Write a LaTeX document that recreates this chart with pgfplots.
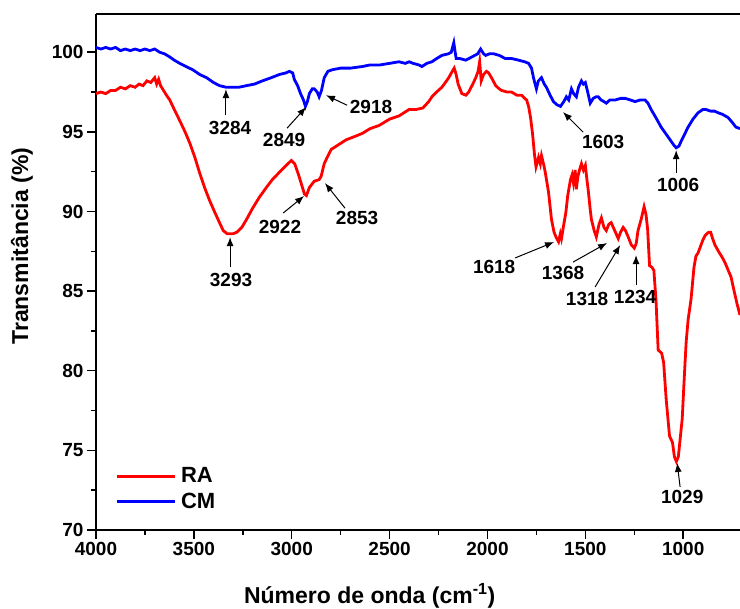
\documentclass[border=0pt]{standalone}
\usepackage{fontspec}
\setmainfont{Liberation Sans}
\usepackage{pgfplots}
\pgfplotsset{compat=1.18}
\usetikzlibrary{arrows.meta}

\begin{document}
\begin{tikzpicture}
\path[use as bounding box] (-96pt,-79pt) rectangle (644pt,530pt);
\begin{axis}[
    scale only axis,
    width=644pt, height=516pt,
    x dir=reverse,
    xmin=710, xmax=4000,
    ymin=70, ymax=102.4,
    xtick={1000,1500,2000,2500,3000,3500,4000},
    ytick={70,75,80,85,90,95,100},
    minor x tick num=1,
    minor y tick num=1,
    axis lines=left,
    axis line style={-, line width=1.5pt},
    tick align=outside,
    major tick length=9pt,
    minor tick length=5pt,
    every tick/.style={line width=1.5pt, black},
    clip=false,
    /pgf/number format/assume math mode=true,
    /pgf/number format/1000 sep={},
    tick label style={font=\fontsize{19}{20}\selectfont\bfseries},
    xlabel={Número de onda (cm\textsuperscript{-1})},
    ylabel={Transmitância (\%)},
    xlabel style={font=\fontsize{23}{26}\selectfont\bfseries, at={(axis description cs:0.425,-0.128)}, anchor=center},
    ylabel style={font=\fontsize{23}{26}\selectfont\bfseries, at={(axis description cs:-0.115,0.55)}, anchor=center},
    legend style={draw=none, fill=none, at={(axis description cs:0.025,0.03)}, anchor=south west,
        font=\fontsize{22}{24}\selectfont\bfseries, row sep=5pt,
        nodes={inner xsep=5pt}},
    legend cell align=left,
    legend image code/.code={\draw[#1] (0pt,0pt) -- (58pt,0pt);},
]
\addplot[red, line width=2.8pt] coordinates {
(4000,97.4) (3975,97.5) (3950,97.4) (3925,97.6) (3900,97.6) (3875,97.8) (3850,97.7)
(3825,97.9) (3800,97.8) (3780,98.0) (3760,97.9) (3740,98.2) (3720,98.1) (3700,98.4)
(3690,98.0) (3680,98.3) (3670,97.9) (3655,97.6) (3640,97.3) (3623,97.0) (3600,96.4)
(3572,95.7) (3545,95.0) (3521,94.3) (3495,93.4) (3470,92.4) (3445,91.5) (3420,90.7)
(3395,90.0) (3369,89.3) (3350,88.8) (3330,88.6) (3300,88.6) (3280,88.7) (3255,89.0)
(3231,89.5) (3200,90.2) (3165,90.9) (3130,91.5) (3099,92.0) (3060,92.5) (3028,92.9)
(3002,93.2) (2985,93.0) (2965,92.3) (2950,91.7) (2935,91.1) (2925,91.0) (2910,91.5)
(2885,91.9) (2860,92.0) (2850,92.2) (2834,93.0) (2815,93.5) (2798,93.9) (2760,94.2)
(2722,94.5) (2680,94.7) (2640,94.9) (2600,95.2) (2554,95.4) (2500,95.8) (2452,96.0)
(2401,96.4) (2366,96.4) (2330,96.5) (2315,96.7) (2300,96.9) (2284,97.2) (2260,97.5)
(2233,97.8) (2215,98.1) (2198,98.4) (2180,98.8) (2170,99.0) (2160,98.6) (2150,98.0)
(2131,97.4) (2110,97.3) (2096,97.5) (2075,98.0) (2060,98.4) (2048,98.8) (2040,99.4)
(2032,98.2) (2020,98.6) (2005,98.8) (1994,98.7) (1975,98.3) (1958,97.9) (1940,97.7)
(1928,97.6) (1900,97.5) (1877,97.5) (1850,97.3) (1826,97.3) (1810,97.1) (1800,97.0)
(1790,96.6) (1780,95.9) (1770,94.9) (1760,93.6) (1752,92.8) (1745,93.1) (1739,93.4)
(1730,93.0) (1724,93.5) (1712,92.9) (1704,92.4) (1688,91.2) (1673,89.5) (1660,88.7)
(1650,88.4) (1637,88.1) (1628,88.6) (1622,88.3) (1610,89.2) (1600,89.9) (1590,91.0)
(1576,92.0) (1568,92.3) (1561,91.8) (1552,92.6) (1546,91.4) (1538,92.2) (1530,92.6)
(1520,93.0) (1510,92.6) (1500,92.9) (1492,92.0) (1485,91.3) (1475,90.1) (1469,89.5)
(1455,88.8) (1444,88.4) (1430,89.2) (1418,89.6) (1405,89.0) (1393,88.8) (1380,89.2)
(1368,89.3) (1350,88.8) (1332,88.3) (1320,88.7) (1307,89.0) (1295,88.8) (1281,88.4)
(1265,87.9) (1250,87.7) (1240,88.0) (1231,88.8) (1215,89.5) (1200,90.3) (1190,89.8)
(1182,88.9) (1172,86.6) (1160,86.5) (1150,86.3) (1139,84.4) (1128,81.3) (1110,81.1)
(1100,80.5) (1087,78.2) (1070,75.9) (1055,75.5) (1045,74.6) (1035,74.3) (1025,74.6)
(1015,75.8) (1005,77.0) (995,79.5) (985,81.8) (975,83.2) (960,84.5) (945,86.5)
(935,87.2) (924,87.4) (912,87.8) (900,88.2) (888,88.5) (870,88.7) (860,88.7)
(850,88.3) (838,87.9) (820,87.5) (800,87.1) (787,86.8) (770,86.3) (756,85.9)
(740,85.0) (725,84.2) (710,83.5)
};
\addlegendentry{RA}
\addplot[blue, line width=2.8pt] coordinates {
(4000,100.3) (3975,100.2) (3950,100.3) (3925,100.2) (3900,100.3) (3875,100.1) (3850,100.2)
(3825,100.1) (3800,100.2) (3775,100.1) (3750,100.2) (3725,100.1) (3700,100.2) (3675,100.0)
(3650,99.9) (3623,99.7) (3600,99.5) (3572,99.3) (3540,99.1) (3506,98.9) (3470,98.6)
(3435,98.4) (3400,98.1) (3369,97.9) (3335,97.8) (3302,97.8) (3270,97.8) (3231,97.9)
(3190,98.0) (3150,98.2) (3105,98.4) (3063,98.6) (3030,98.7) (3012,98.8) (2995,98.7)
(2987,98.3) (2970,97.9) (2955,97.4) (2940,97.0) (2930,96.6) (2920,96.9) (2910,97.4)
(2895,97.7) (2885,97.7) (2870,97.5) (2860,97.2) (2848,97.6) (2834,98.4) (2815,98.8)
(2793,98.9) (2750,99.0) (2700,99.0) (2640,99.1) (2600,99.2) (2550,99.2) (2500,99.3)
(2452,99.4) (2420,99.3) (2400,99.4) (2380,99.3) (2350,99.2) (2335,99.1) (2310,99.3)
(2284,99.4) (2260,99.6) (2233,99.8) (2200,99.9) (2185,100.0) (2172,100.6) (2165,100.0)
(2160,99.6) (2140,99.6) (2111,99.5) (2080,99.7) (2050,99.9) (2035,100.2) (2020,99.9)
(2009,99.8) (1990,99.9) (1968,99.9) (1940,99.8) (1908,99.6) (1875,99.6) (1841,99.5)
(1810,99.4) (1790,99.3) (1775,99.0) (1765,98.4) (1750,97.7) (1740,98.2) (1724,98.4)
(1710,98.0) (1699,97.8) (1680,97.3) (1663,96.9) (1645,96.7) (1627,96.6) (1610,96.9)
(1597,97.2) (1585,97.0) (1571,97.7) (1560,97.4) (1546,97.2) (1535,97.8) (1520,98.2)
(1510,98.0) (1500,98.1) (1490,97.6) (1475,96.8) (1460,97.1) (1445,97.2) (1434,97.2)
(1420,97.0) (1405,96.9) (1393,96.8) (1375,97.0) (1347,97.0) (1320,97.1) (1296,97.1)
(1270,97.0) (1246,96.9) (1220,97.0) (1195,97.0) (1180,96.8) (1164,96.4) (1140,95.9)
(1113,95.3) (1090,94.9) (1067,94.5) (1050,94.2) (1036,94.0) (1022,94.1) (1011,94.4)
(995,94.8) (975,95.3) (950,95.8) (924,96.2) (900,96.4) (883,96.4) (860,96.3)
(840,96.3) (822,96.2) (800,96.1) (771,95.9) (750,95.6) (731,95.3) (710,95.2)
};
\addlegendentry{CM}
\draw[line width=1.5pt] (rel axis cs:0,1) -- (rel axis cs:1,1);
% peak labels
\begin{scope}[every node/.style={font=\fontsize{19}{21}\selectfont\bfseries},
    arr/.style={-{Latex[length=9pt,width=7pt]}, line width=1pt}]
\draw[arr] (axis cs:3336,96.05) -- (axis cs:3336,97.68);
\node at (axis cs:3315,95.23) {3284};
\draw[arr] (axis cs:3024,95.23) -- (axis cs:2927,96.55);
\node at (axis cs:3039,94.48) {2849};
\draw[arr] (axis cs:2717,96.67) -- (axis cs:2825,97.30);
\node at (axis cs:2595,96.55) {2918};
\draw[arr] (axis cs:3315,86.51) -- (axis cs:3315,88.39);
\node at (axis cs:3310,85.69) {3293};
\draw[arr] (axis cs:3044,89.90) -- (axis cs:2937,90.97);
\node at (axis cs:3060,89.02) {2922};
\draw[arr] (axis cs:2728,90.21) -- (axis cs:2830,91.78);
\node at (axis cs:2666,89.59) {2853};
\draw[arr] (axis cs:1511,94.98) -- (axis cs:1614,96.24);
\node at (axis cs:1409,94.35) {1603};
\draw[arr] (axis cs:1036,92.41) -- (axis cs:1036,93.85);
\node at (axis cs:1026,91.66) {1006};
\draw[arr] (axis cs:1859,87.08) -- (axis cs:1660,88.08);
\node at (axis cs:1966,86.51) {1618};
\draw[arr] (axis cs:1563,86.82) -- (axis cs:1389,88.02);
\node at (axis cs:1614,86.13) {1368};
\draw[arr] (axis cs:1450,85.26) -- (axis cs:1322,87.89);
\node at (axis cs:1491,84.50) {1318};
\draw[arr] (axis cs:1241,85.38) -- (axis cs:1241,87.26);
\node at (axis cs:1246,84.63) {1234};
\draw[arr] (axis cs:1016,72.71) -- (axis cs:1031,74.21);
\node at (axis cs:1005,72.08) {1029};
\end{scope}
\end{axis}
\end{tikzpicture}
\end{document}
